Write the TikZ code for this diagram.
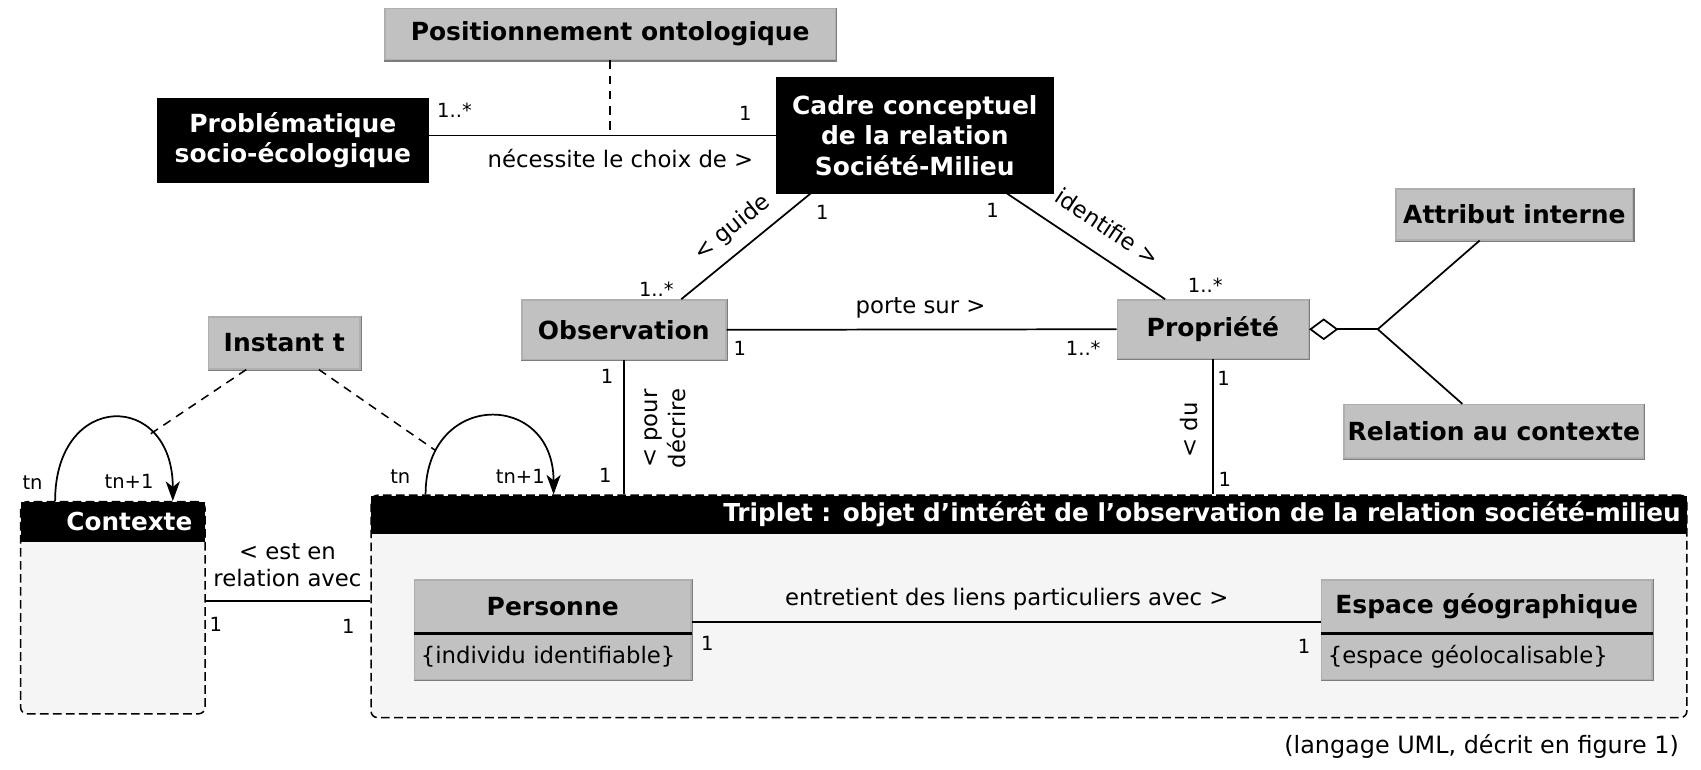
\documentclass[tikz,border=0pt]{standalone}
\usepackage{fontspec}
\setmainfont{DejaVu Sans}
\usetikzlibrary{arrows.meta,calc,positioning}
\definecolor{boxgray}{RGB}{193,193,193}
\definecolor{boxedge}{RGB}{175,175,175}
\definecolor{edgedark}{RGB}{125,125,125}
\definecolor{lightfill}{RGB}{245,245,245}
\tikzset{
  shadowedge/.style={append after command={
     \pgfextra{\draw[line width=1pt, color=edgedark] (\tikzlastnode.north east) -- (\tikzlastnode.south east) -- (\tikzlastnode.south west);}}},
  graybox/.style={fill=boxgray, draw=boxedge, line width=0.7pt, inner sep=0pt, align=center,
    font=\bfseries\fontsize{11.5}{14}\selectfont, shadowedge},
  blackbox/.style={fill=black, draw=black, text=white, inner sep=0pt, align=center,
    font=\bfseries\fontsize{11.5}{14}\selectfont},
  container/.style={draw=black, dash pattern=on 4pt off 2pt, line width=0.7pt, fill=lightfill,
    rounded corners=3pt, inner sep=0pt},
  headtxt/.style={text=white, inner sep=0pt, font=\bfseries\fontsize{11.4}{14}\selectfont},
  lbl/.style={inner sep=1pt, font=\fontsize{10.5}{12.5}\selectfont, align=center},
  mult/.style={inner sep=1pt, font=\fontsize{9}{11}\selectfont},
  assoc/.style={line width=0.8pt},
  dep/.style={line width=0.7pt, dash pattern=on 4pt off 3pt},
  loopline/.style={line width=0.8pt, -{Stealth[length=9pt,width=6.5pt,inset=2.5pt]}},
  classhead/.style={fill=boxgray, draw=boxedge, line width=0.7pt, inner sep=0pt,
    font=\bfseries\fontsize{11.5}{14}\selectfont, shadowedge},
  classattr/.style={fill=boxgray, draw=boxedge, line width=0.7pt, inner sep=0pt, inner xsep=3pt,
    font=\fontsize{10.5}{13}\selectfont, align=left, shadowedge},
}
\begin{document}
\begin{tikzpicture}[x=0.5pt,y=-0.5pt]
\useasboundingbox (0,0) rectangle (1568,709);

% ---------- boxes ----------
\node[graybox, minimum width=207.5pt, minimum height=23.5pt] (pos) at (562.5,31.5) {Positionnement ontologique};
\node[blackbox, minimum width=124.5pt, minimum height=38.5pt] (prob) at (270,129.5) {Problématique\\socio-écologique};
\node[blackbox, minimum width=127.75pt, minimum height=53.25pt] (cadre) at (843.25,124.8) {Cadre conceptuel\\de la relation\\Société-Milieu};
\node[graybox, minimum width=94pt, minimum height=27.5pt] (obs) at (575,304) {Observation};
\node[graybox, minimum width=88pt, minimum height=27pt] (prop) at (1118,303.5) {Propriété};
\node[graybox, minimum width=109pt, minimum height=23.5pt] (attr) at (1396,197.5) {Attribut interne};
\node[graybox, minimum width=138pt, minimum height=24.5pt] (rel) at (1377,397.5) {Relation au contexte};
\node[graybox, minimum width=70pt, minimum height=24pt] (inst) at (262,316) {Instant t};

% containers
\node[container, minimum width=85pt, minimum height=97.75pt] (ctx) at (104,560.25) {};
\fill[black] ($(ctx.north west)+(1,1)$) rectangle ($(ctx.north east)+(-1,37.5)$);
\node[headtxt, anchor=east] (ctxt) at ($(ctx.north east)+(-12,19)$) {Contexte};

\node[container, minimum width=606.5pt, minimum height=102.5pt] (trip) at (948.5,559) {};
\fill[black] ($(trip.north west)+(1,1)$) rectangle ($(trip.north east)+(-1,36.5)$);
\node[headtxt, anchor=east] (tript) at ($(trip.north east)+(-6,18.5)$) {Triplet : objet d'intérêt de l'observation de la relation société-milieu};

% classes inside triplet
\node[classhead, minimum width=127.5pt, minimum height=24.45pt] (pers) at (509.5,559.15) {Personne};
\node[classattr, minimum width=127.5pt, minimum height=20.7pt, text width=121.5pt, below=0pt of pers] (persattr) {\{individu identifiable\}};
\draw[line width=1.3pt] (pers.south west) -- (pers.south east);

\node[classhead, minimum width=152.5pt, minimum height=24.45pt] (esp) at (1370.5,559.15) {Espace géographique};
\node[classattr, minimum width=152.5pt, minimum height=20.7pt, text width=146.5pt, below=0pt of esp] (espattr) {\{espace géolocalisable\}};
\draw[line width=1.3pt] (esp.south west) -- (esp.south east);

% ---------- connectors ----------
\draw[assoc] (cadre.west) -- (cadre.west -| prob.east);
\draw[dep] (pos.south) -- (pos.south |- cadre.west);
\node[mult] (m1) at (419,101.4) {1..*};
\node[mult] (m2) at (687,104.5) {1};
\node[lbl] (l1) at (572,146) {nécessite le choix de >};

\draw[assoc] ($(cadre.south west)+(32,0)$) -- ($(obs.north)+(53,0)$);
\node[lbl, rotate=39] (l2) at (675,210) {< guide};
\node[mult] (m3) at (758,196) {1};
\node[mult] (m4) at (605,267) {1..*};

\draw[assoc] ($(cadre.south east)+(-43,0)$) -- ($(prop.north)+(-44,0)$);
\node[lbl, rotate=-33.7] (l3) at (1021,209) {identifie >};
\node[mult] (m5) at (915,193.6) {1};
\node[mult] (m6) at (1111,262.8) {1..*};

\draw[assoc] (obs.east) -- (prop.west);
\node[lbl] (l4) at (848.6,284) {porte sur >};
\node[mult] (m7) at (682,321) {1};
\node[mult] (m8) at (998.5,321) {1..*};

\draw[assoc] (obs.south) -- (obs.south |- trip.north);
\node[mult] (m9) at (559.5,347) {1};
\node[mult] (m10) at (558,438.5) {1};
\node[lbl, rotate=90] (l5) at (613,395) {< pour\\décrire};

\draw[assoc] (prop.south) -- (prop.south |- trip.north);
\node[mult] (m11) at (1128,349) {1};
\node[mult] (m12) at (1129,441.6) {1};
\node[lbl, rotate=90] (l6) at (1096,396.5) {< du};

% aggregation
\coordinate (junc) at (1270,303.5);
\draw[assoc, line width=1.1pt, -{Diamond[open,length=13.5pt,width=10pt,line width=0.8pt]}] (junc) -- (prop.east);
\draw[assoc] (junc) -- ($(attr.south)+(-32,0)$);
\draw[assoc] (junc) -- ($(rel.north)+(-29,0)$);

% loops
\draw[loopline] ($(ctx.north west)+(32.5,0)$) .. controls +(0,-102) and +(0,-102) .. ($(ctx.north west)+(141,0)$)
  coordinate[pos=0.72] (ctxloop);
\draw[loopline] ($(trip.north west)+(51,0)$) .. controls +(0,-96) and +(0,-96) .. ($(trip.north west)+(169,0)$)
  coordinate[pos=0.17] (triploop);
\node[mult] (t1) at (30,445) {tn};
\node[mult] (t2) at (119,444) {tn+1};
\node[mult] (t3) at (369,439) {tn};
\node[mult] (t4) at (479.6,439) {tn+1};

\draw[dep] ($(inst.south)+(-35,0)$) -- (ctxloop);
\draw[dep] ($(inst.south)+(32,0)$) -- (triploop);

% contexte - triplet
\draw[assoc] ($(ctx.east)+(0,-6)$) -- (trip.west |- {$(ctx.east)+(0,-6)$});
\node[lbl] (l7) at (265,521) {< est en\\relation avec};
\node[mult] (m13) at (199,576) {1};
\node[mult] (m14) at (321,577.7) {1};

% personne - espace
\draw[assoc] ($(pers.east)+(0,14)$) -- (esp.west |- {$(pers.east)+(0,14)$});
\node[lbl] (l8) at (928,552) {entretient des liens particuliers avec >};
\node[mult] (m15) at (652,593) {1};
\node[mult] (m16) at (1202,596) {1};

\node[lbl, anchor=east, font=\fontsize{11}{13}\selectfont] (note) at (1550,688) {(langage UML, décrit en figure 1)};
\end{tikzpicture}
\end{document}
